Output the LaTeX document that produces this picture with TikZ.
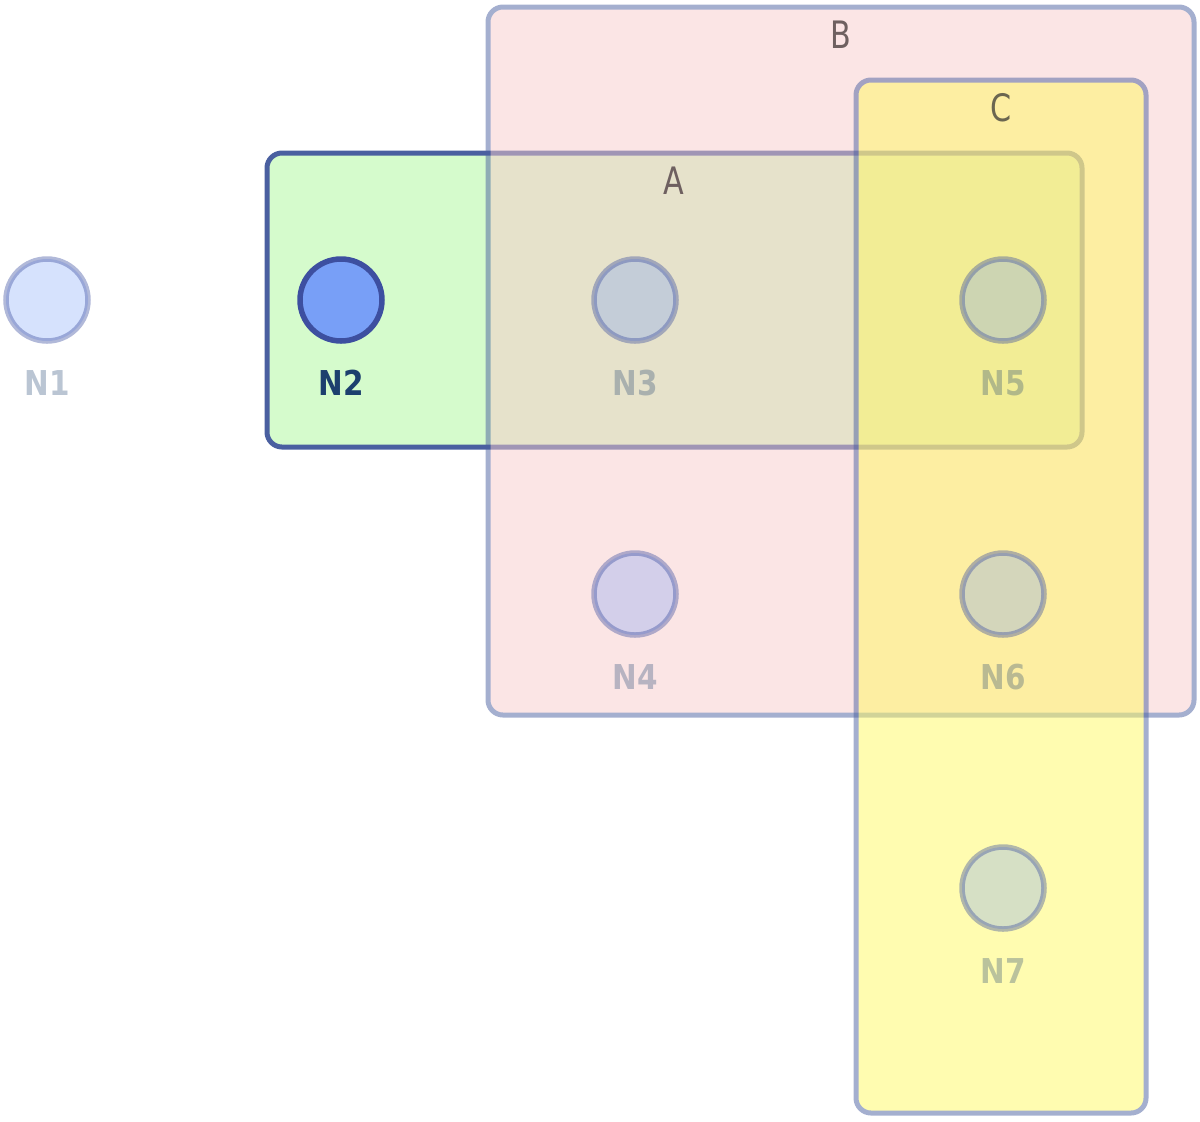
\documentclass[tikz,border=0pt]{standalone}
\usepackage{fontspec}
\setmainfont{DejaVu Sans}
\newfontfamily\grpfont[FakeStretch=0.8]{DejaVu Sans}
\newfontfamily\lblfont[FakeStretch=0.86]{DejaVu Sans Bold}
\usetikzlibrary{positioning}
\definecolor{setblue}{HTML}{4A5FA0}
\definecolor{fillA}{HTML}{D5FBCC}
\definecolor{fillB}{HTML}{F7CBCB}
\definecolor{fillC}{HTML}{FFF961}
\definecolor{vtxfill}{HTML}{789FF7}
\definecolor{vtxline}{HTML}{3D4FA0}
\definecolor{lblblue}{HTML}{1C3F6E}
\definecolor{grptext}{HTML}{6E6060}
\definecolor{grptextC}{HTML}{6B6650}

\begin{document}
\begin{tikzpicture}[x=0.2mm, y=-0.2mm,
  setbox/.style={rounded corners=3mm, line width=1mm, draw=setblue},
  vertex/.style={circle, minimum size=16.4mm, inner sep=0pt,
    line width=1.1mm, draw=vtxline, fill=vtxfill},
  faded/.style={fill opacity=0.3, draw opacity=0.4},
  vlabel/.style={font=\lblfont\fontsize{19.5}{19.5}\selectfont,
    text=lblblue, inner sep=0pt},
  grplabel/.style={font=\grpfont\fontsize{21.5}{21.5}\selectfont,
    text=grptext, inner sep=0pt}]
  \useasboundingbox (0,0) rectangle (1200,1121);
  % set A, opaque, at the bottom
  \draw[setbox, fill=fillA] (267,153) rectangle (1082,447);
  % set B over it
  \begin{scope}[transparency group, opacity=0.5]
    \draw[setbox, fill=fillB] (488,7) rectangle (1194,715);
  \end{scope}
  % set C on top
  \begin{scope}[transparency group, opacity=0.5]
    \draw[setbox, fill=fillC] (856,80) rectangle (1146,1113);
  \end{scope}
  % the one chosen vertex
  \node[vertex] (v2) at (341,300) {};
  \node[vlabel] (l2) at (341,383) {N2};
  % the others, faded
  \foreach \n/\x/\y in {1/47/300, 3/635/300, 4/635/594,
                        5/1003/300, 6/1003/594, 7/1003/888} {
    \node[vertex, faded] (v\n) at (\x,\y) {};
    \node[vlabel, text opacity=0.3] (l\n) at ({\x},{\y+83}) {N\n};
  }
  % set names
  \node[grplabel] (nameA) at (674,181) {A};
  \node[grplabel] (nameB) at (841,35) {B};
  \node[grplabel, text=grptextC] (nameC) at (1001,108) {C};
\end{tikzpicture}
\end{document}
